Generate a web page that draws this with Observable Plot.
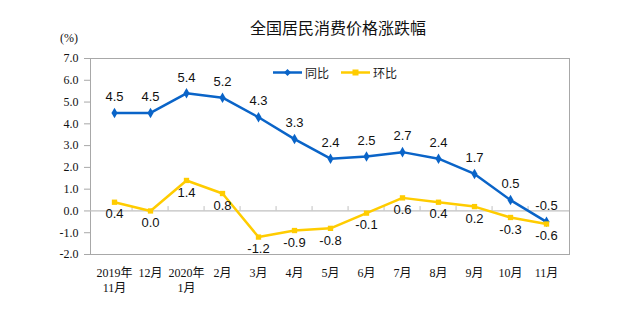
<!DOCTYPE html>
<html><head><meta charset="utf-8">
<script src="https://cdn.jsdelivr.net/npm/d3@7"></script>
<script src="https://cdn.jsdelivr.net/npm/@observablehq/plot@0.6"></script>
<style>
body{margin:0;background:#fff;}
#wrap{position:relative;width:639px;height:324px;overflow:hidden;background:#fff;}
#chart{position:absolute;left:0;top:0;}
#title{position:absolute;left:250px;top:18px;font:16px "Noto Sans CJK SC",sans-serif;line-height:18px;color:#111;white-space:nowrap;}
#unit{position:absolute;left:60px;top:31px;font:12px "Liberation Serif","Times New Roman",serif;line-height:14px;color:#111;}
#legend{position:absolute;left:273px;top:64px;display:flex;align-items:center;font:12px "Noto Sans CJK SC",sans-serif;color:#222;}
#legend .item{display:flex;align-items:center;margin-right:12px;}
#legend svg{margin-right:3px;}
</style></head><body>
<div id="wrap">
<div id="chart"></div>
<div id="title"></div>
<div id="unit"></div>
<div id="legend"></div>
</div>
<script>
const months = ["2019年\n11月","12月","2020年\n1月","2月","3月","4月","5月","6月","7月","8月","9月","10月","11月"];
const yoy = [4.5,4.5,5.4,5.2,4.3,3.3,2.4,2.5,2.7,2.4,1.7,0.5,-0.5];
const mom = [0.4,0.0,1.4,0.8,-1.2,-0.9,-0.8,-0.1,0.6,0.4,0.2,-0.3,-0.6];
const yTicks = [-2,-1,0,1,2,3,4,5,6,7];
const seriesNames = ["同比","环比"];
const seriesColors = ["#0a64c8","#ffcc00"];
const titleText = "全国居民消费价格涨跌幅";
const unitText = "(%)";

document.getElementById("title").textContent = titleText;
document.getElementById("unit").textContent = unitText;

const rows = months.map((m,i)=>({month:m, yoy:yoy[i], mom:mom[i]}));
const W = 639, H = 324, ML = 90, MR = 70, MT = 58, MB = 70;
const halfStep = (W - ML - MR) / months.length / 2;
const labelFont = "'Liberation Sans', Arial, sans-serif";
const serif = "'Liberation Serif','Times New Roman','Noto Sans CJK SC',serif";

const chart = Plot.plot({
  width: W, height: H,
  marginLeft: ML, marginRight: MR, marginTop: MT, marginBottom: MB,
  style: {background: "#fff", color: "#111", overflow: "visible"},
  x: {type: "point", domain: months, padding: 0.5},
  y: {domain: [-2, 7]},
  marks: [
    Plot.frame({stroke: "#a8a8a8"}),
    Plot.ruleY([0], {stroke: "#c0c0c0", strokeWidth: 1.2}),
    Plot.ruleX(months.slice(1), {x: d => d, dx: -halfStep, y1: 0, y2: 0.2, stroke: "#c0c0c0"}),
    Plot.axisY(yTicks, {tickSize: 6, tickPadding: 6, stroke: "#a8a8a8", tickFormat: d => d.toFixed(1), fontSize: 12, fontFamily: serif, label: null}),
    Plot.axisX({tickSize: 0, tickPadding: 11, fontSize: 12, fontFamily: serif, lineHeight: 1.3, label: null}),
    Plot.line(rows, {x: "month", y: "yoy", stroke: seriesColors[0], strokeWidth: 2.5}),
    Plot.dot(rows, {x: "month", y: "yoy", symbol: "diamond", r: 3.2, fill: seriesColors[0]}),
    Plot.line(rows, {x: "month", y: "mom", stroke: seriesColors[1], strokeWidth: 2.5}),
    Plot.dot(rows, {x: "month", y: "mom", symbol: "square", r: 3, fill: seriesColors[1]}),
    Plot.text(rows, {x: "month", y: "yoy", text: d => d.yoy.toFixed(1), dy: -16, fontSize: 13, fontFamily: labelFont, fill: "#111"}),
    Plot.text(rows, {x: "month", y: "mom", text: d => d.mom.toFixed(1), dy: 12, fontSize: 13, fontFamily: labelFont, fill: "#111"})
  ]
});
document.getElementById("chart").appendChild(chart);

// legend
const legend = document.getElementById("legend");
seriesNames.forEach((name, i) => {
  const item = document.createElement("div");
  item.className = "item";
  const marker = i === 0
    ? `<path d="M14.5,3 L18,6.5 L14.5,10 L11,6.5Z" fill="${seriesColors[i]}"/>`
    : `<rect x="11.5" y="3.5" width="6" height="6" fill="${seriesColors[i]}"/>`;
  item.innerHTML = `<svg width="29" height="13"><line x1="0" y1="6.5" x2="29" y2="6.5" stroke="${seriesColors[i]}" stroke-width="2.5"/>${marker}</svg><span>${name}</span>`;
  legend.appendChild(item);
});
</script>
</body></html>
